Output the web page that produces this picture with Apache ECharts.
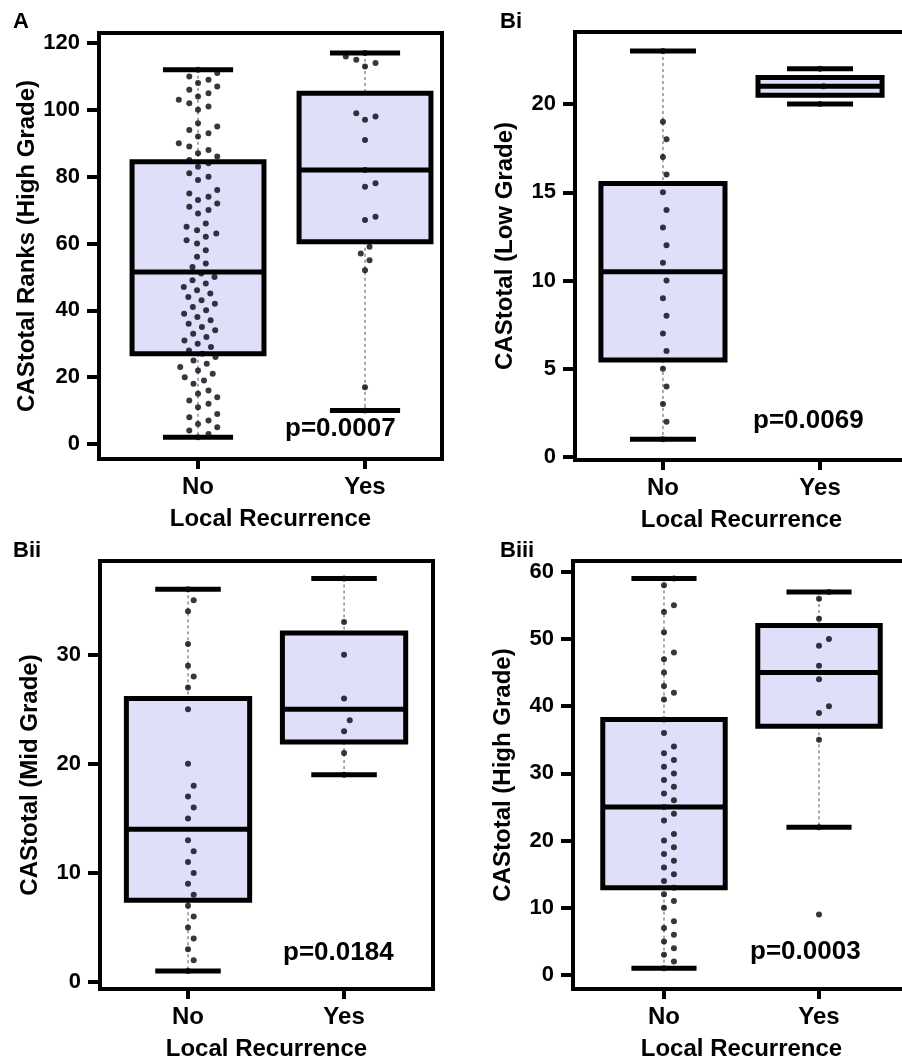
<!DOCTYPE html>
<html>
<head>
<meta charset="utf-8">
<style>
  html, body { margin: 0; padding: 0; background: #fff; }
  #chart { width: 902px; height: 1061px; }
</style>
<script src="https://cdn.jsdelivr.net/npm/echarts@6/dist/echarts.min.js"></script>
</head>
<body>
<div id="chart"></div>
<script>
// ---- data ----
const categories = ['No', 'Yes'];
const panelLabels = ['A', 'Bi', 'Bii', 'Biii'];
const yTitles = ['CAStotal Ranks (High Grade)', 'CAStotal (Low Grade)', 'CAStotal (Mid Grade)', 'CAStotal (High Grade)'];
const xTitle = 'Local Recurrence';
const pValues = ['p=0.0007', 'p=0.0069', 'p=0.0184', 'p=0.0003'];

const yTicksA = [0, 20, 40, 60, 80, 100, 120];
const yTicksBi = [0, 5, 10, 15, 20];
const yTicksBii = [0, 10, 20, 30];
const yTicksBiii = [0, 10, 20, 30, 40, 50, 60];

// box statistics per group: [lower whisker, Q1, median, Q3, upper whisker]
const boxA = [[2, 27, 51.5, 84.5, 112], [10, 60.5, 82, 105, 117]];
const boxBi = [[1, 5.5, 10.5, 15.5, 23], [20, 20.5, 21, 21.5, 22]];
const boxBii = [[1, 7.5, 14, 26, 36], [19, 22, 25, 32, 37]];
const boxBiii = [[1, 13, 25, 38, 59], [22, 37, 45, 52, 57]];

// individual observations
const dotsA_No = [2, 3, 4, 5, 6, 7, 8, 9, 11, 12, 13, 14, 15, 16, 18, 19, 20, 21, 22, 23, 24, 25, 26, 27, 28, 29, 30,
  31, 32, 33, 34, 35, 36, 37, 38, 39, 40, 41, 42, 43, 44, 45, 46, 47, 48, 49, 50, 51, 53, 54, 56, 58, 60, 61, 62, 63,
  64, 65, 66, 69, 70, 71, 72, 73, 74, 75, 76, 79, 80, 81, 83, 84, 85, 86, 87, 88, 89, 90, 92, 93, 94, 95, 96, 100,
  101, 102, 103, 104, 105, 106, 107, 108, 109, 110, 111, 112];
const dotsA_Yes = [10, 17, 52, 55, 57, 59, 67, 68, 77, 78, 82, 91, 97, 98, 99, 113, 114, 115, 116, 117];
const dotsBi_No = [1, 2, 3, 4, 5, 6, 7, 8, 9, 10, 11, 12, 13, 14, 15, 16, 17, 18, 19, 23];
const dotsBi_Yes = [20, 21, 22];
const dotsBii_No = [1, 2, 3, 4, 5, 6, 7, 8, 9, 10, 11, 12, 13, 15, 16, 17, 18, 20, 25, 27, 28, 29, 31, 34, 35, 36];
const dotsBii_Yes = [19, 21, 23, 24, 26, 30, 33, 37];
const dotsBiii_No = [1, 2, 3, 4, 5, 6, 7, 8, 10, 11, 12, 13, 14, 15, 16, 17, 18, 19, 20, 21, 23, 24, 25, 26, 27, 28,
  29, 30, 31, 32, 33, 34, 36, 38, 41, 42, 43, 45, 47, 48, 51, 54, 55, 58, 59];
const dotsBiii_Yes = [9, 22, 35, 39, 40, 44, 46, 49, 50, 53, 56, 57];

// ---- layout & style ----
const FONT = '"Liberation Sans", Arial, sans-serif';
const BOX_FILL = '#dfdffa';
const panels = [
  { grid: { left: 99, top: 33, width: 343, height: 426 }, x: [-0.593, 1.461], y: [-4.5, 123], ticks: yTicksA,
    box: boxA, dots: [dotsA_No, dotsA_Yes], gap: 11, p: [285, 429], label: [13, 22] },
  { grid: { left: 575, top: 32, width: 333, height: 428 }, x: [-0.56, 1.56], y: [-0.17, 24.08], ticks: yTicksBi,
    box: boxBi, dots: [dotsBi_No, dotsBi_Yes], gap: 18, p: [753, 421], label: [500, 22] },
  { grid: { left: 100, top: 561, width: 333, height: 428 }, x: [-0.564, 1.57], y: [-0.64, 38.6], ticks: yTicksBii,
    box: boxBii, dots: [dotsBii_No, dotsBii_Yes], gap: 12.3, p: [283, 953], label: [13, 551] },
  { grid: { left: 573, top: 561, width: 337, height: 428 }, x: [-0.587, 1.587], y: [-2.08, 61.6], ticks: yTicksBiii,
    box: boxBiii, dots: [dotsBiii_No, dotsBiii_Yes], gap: 12, p: [750, 952], label: [500, 551] }
];
const BOX_HALF = 0.395;
const CAP_HALF = 0.21;

function renderBox(params, api) {
  const c = api.value(0);
  const lo = api.value(1), q1 = api.value(2), md = api.value(3), q3 = api.value(4), hi = api.value(5);
  const p = (x, y) => api.coord([x, y]);
  const seg = (a, b, style) => ({ type: 'line', shape: { x1: a[0], y1: a[1], x2: b[0], y2: b[1] }, style });
  const dash = { stroke: '#555', lineWidth: 1, lineDash: [3, 3] };
  const heavy = { stroke: '#000', lineWidth: 5 };
  const tl = p(c - BOX_HALF, q3), br = p(c + BOX_HALF, q1);
  return {
    type: 'group',
    children: [
      seg(p(c, hi), p(c, q3), dash),
      seg(p(c, q1), p(c, lo), dash),
      { type: 'rect', shape: { x: tl[0], y: tl[1], width: br[0] - tl[0], height: br[1] - tl[1] },
        style: { fill: BOX_FILL, stroke: '#000', lineWidth: 5 } },
      seg(p(c - BOX_HALF, md), p(c + BOX_HALF, md), heavy),
      seg(p(c - CAP_HALF, hi), p(c + CAP_HALF, hi), heavy),
      seg(p(c - CAP_HALF, lo), p(c + CAP_HALF, lo), heavy)
    ]
  };
}

const textStyle = (size) => ({ fontFamily: FONT, fontWeight: 'bold', fontSize: size, color: '#000' });

const option = {
  animation: false,
  backgroundColor: '#fff',
  grid: panels.map(pn => Object.assign({ show: true, borderColor: '#000', borderWidth: 4,
    backgroundColor: 'transparent', containLabel: false, outerBoundsMode: 'none' }, pn.grid)),
  xAxis: panels.map((pn, g) => ({
    gridIndex: g, type: 'value', min: pn.x[0], max: pn.x[1],
    axisLine: { show: false, onZero: false }, splitLine: { show: false },
    axisTick: { show: true, customValues: [0, 1], length: 10, lineStyle: { width: 4, color: '#000' } },
    axisLabel: Object.assign({ customValues: [0, 1], margin: 16, formatter: v => categories[Math.round(v)] }, textStyle(24)),
    name: xTitle, nameLocation: 'middle', nameGap: 48, nameTextStyle: textStyle(24)
  })),
  yAxis: panels.map((pn, g) => ({
    gridIndex: g, type: 'value', min: pn.y[0], max: pn.y[1],
    axisLine: { show: false, onZero: false }, splitLine: { show: false },
    axisTick: { show: true, customValues: pn.ticks, length: 12, lineStyle: { width: 4, color: '#000' } },
    axisLabel: Object.assign({ customValues: pn.ticks, margin: 19 }, textStyle(22)),
    name: yTitles[g], nameLocation: 'middle', nameGap: 58, nameRotate: 90, nameTextStyle: textStyle(24)
  })),
  graphic: panels.flatMap((pn, g) => [
    { type: 'text', x: pn.label[0], y: pn.label[1],
      style: { text: panelLabels[g], fill: '#000', font: 'bold 22px ' + FONT, align: 'left', verticalAlign: 'middle' } },
    { type: 'text', x: pn.p[0], y: pn.p[1], z: 10,
      style: { text: pValues[g], fill: '#000', font: 'bold 26px ' + FONT, align: 'left', verticalAlign: 'middle' } }
  ]),
  series: panels.map((pn, g) => ({
    type: 'custom', xAxisIndex: g, yAxisIndex: g, renderItem: renderBox, silent: true, z: 2,
    encode: { x: 0, y: [1, 2, 3, 4, 5] },
    data: pn.box.map((s, c) => [c].concat(s))
  }))
};

const chart = echarts.init(document.getElementById('chart'), null, { renderer: 'canvas', width: 902, height: 1061 });
chart.setOption(option);

// beeswarm placement: each point takes the offset nearest the centre line that keeps it
// at least `d` pixels from every point already placed (ascending order, ties go right)
function swarm(ys, d) {
  const order = ys.map((_, i) => i).sort((a, b) => ys[b] - ys[a]);
  const placed = [];
  const out = [];
  for (const i of order) {
    const y = ys[i];
    const near = placed.filter(q => Math.abs(q.y - y) < d);
    const cands = [0];
    near.forEach(q => {
      const dx = Math.sqrt(d * d - (q.y - y) * (q.y - y));
      cands.push(q.x + dx, q.x - dx);
    });
    cands.sort((a, b) => (Math.abs(a) - Math.abs(b)) || (b - a));
    const x = cands.find(cx => near.every(q => (q.x - cx) ** 2 + (q.y - y) ** 2 >= d * d - 0.01));
    placed.push({ x, y });
    out[i] = x;
  }
  return out;
}

const dotSeries = panels.map((pn, g) => {
  const unit = chart.convertToPixel({ gridIndex: g }, [1, 0])[0] - chart.convertToPixel({ gridIndex: g }, [0, 0])[0];
  const pts = [];
  pn.dots.forEach((vals, c) => {
    const ys = vals.map(v => chart.convertToPixel({ gridIndex: g }, [c, v])[1]);
    const offs = swarm(ys, pn.gap);
    vals.forEach((v, i) => pts.push([c + offs[i] / unit, v]));
  });
  return {
    type: 'scatter', xAxisIndex: g, yAxisIndex: g, data: pts, symbol: 'circle', symbolSize: 6,
    itemStyle: { color: '#05050f' }, z: 5, silent: true
  };
});

chart.setOption({ series: option.series.concat(dotSeries) });
</script>
</body>
</html>
